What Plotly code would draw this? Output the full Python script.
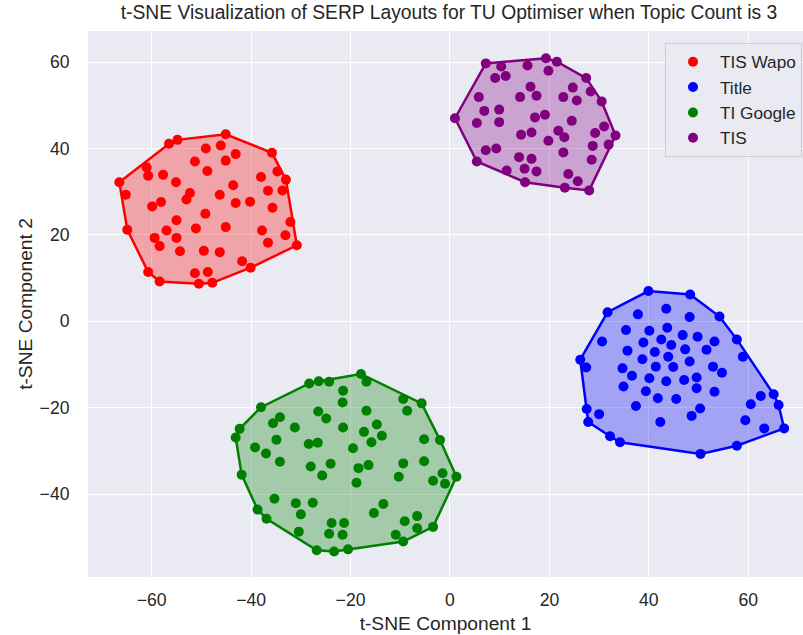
import plotly.graph_objects as go

# t-SNE coordinates per layout group
tis_wapo_x = [-45.1, -54.8, -56.5, -61.0, -66.5, -65.2, -64.9, -60.7, -58.4, -50.5, -47.8, -40.1, -30.8, -32.1,
              -33.0, -34.7, -35.8, -49.1, -46.1, -51.3, -45.1, -43.1, -48.8, -60.7, -57.7, -55.1, -52.3, -53.0,
              -46.3, -43.6, -38.0, -36.6, -33.7, -43.1, -40.2, -35.7, -59.9, -58.1, -49.2, -55.0, -51.1, -45.1,
              -57.0, -59.4, -58.4, -55.0, -54.3, -49.5, -46.3, -37.8, -36.6, -33.1, -51.3, -48.7, -41.8]
tis_wapo_y = [43.3, 42.0, 41.1, 35.6, 32.2, 29.3, 21.2, 11.4, 9.2, 8.7, 8.9, 12.4, 17.6, 23.0,
              32.8, 34.7, 39.0, 40.0, 40.7, 37.0, 37.2, 38.7, 34.8, 33.7, 33.9, 32.2, 29.7, 28.2,
              29.3, 31.5, 33.4, 30.2, 30.3, 27.4, 27.7, 26.3, 26.6, 27.6, 24.9, 23.4, 21.5, 21.8,
              21.0, 19.3, 17.4, 19.3, 16.2, 16.3, 16.0, 21.0, 18.2, 19.9, 11.1, 11.4, 13.9]

title_x = [39.9, 48.3, 54.2, 57.7, 58.9, 65.1, 66.1, 67.2, 63.2, 57.7, 50.4, 34.2, 32.2, 27.8, 27.5, 26.2,
           27.4, 31.7, 37.8, 43.5, 48.2, 35.4, 40.1, 43.7, 30.6, 38.9, 42.5, 44.5, 46.8, 49.8, 53.2, 51.6,
           35.7, 41.2, 43.9, 47.3, 38.7, 48.2, 34.7, 41.4, 44.9, 52.9, 54.7, 36.6, 40.1, 43.5, 47.1, 49.6,
           49.6, 53.2, 34.9, 39.4, 41.8, 45.5, 37.4, 50.3, 48.6, 42.3, 30.0, 59.4, 60.5, 62.5]
title_y = [7.0, 6.2, 1.1, -4.2, -8.2, -16.9, -19.4, -24.8, -24.8, -28.8, -30.7, -28.0, -26.6, -23.3, -20.3, -8.9,
           -10.7, 2.1, 1.6, 2.9, 1.0, -2.0, -2.2, -1.5, -4.7, -4.9, -4.2, -5.5, -3.2, -3.6, -4.7, -6.6,
           -6.8, -7.1, -8.2, -6.5, -8.8, -9.3, -10.9, -10.5, -10.6, -10.5, -11.9, -12.6, -13.2, -13.9, -13.6, -13.0,
           -15.5, -16.3, -15.1, -16.2, -17.8, -18.0, -19.6, -20.2, -21.9, -23.3, -21.5, -22.9, -19.2, -17.3]

ti_google_x = [-17.9, -5.7, -2.0, 1.3, -3.4, -9.4, -20.5, -23.3, -26.8, -36.9, -38.7, -41.9, -43.1, -42.3,
               -38.0, -28.3, -26.4, -24.3, -16.8, -21.5, -21.6, -9.4, -8.6, -16.8, -26.5, -24.9, -34.2, -35.6,
               -31.2, -21.5, -17.3, -14.7, -13.7, -15.8, -34.9, -28.4, -26.6, -19.5, -5.2, -39.2, -37.0, -34.2,
               -28.0, -24.0, -25.7, -18.4, -16.4, -18.8, -9.4, -10.3, -5.2, -3.4, -1.5, -1.0, -35.3, -31.0,
               -27.6, -30.0, -30.4, -23.8, -21.3, -24.3, -21.6, -13.4, -15.3, -9.1, -6.6, -6.6, -10.9]
ti_google_y = [-12.2, -19.0, -27.5, -36.0, -47.6, -51.0, -52.8, -53.3, -53.0, -45.7, -43.6, -35.5, -26.9, -24.9,
               -19.9, -14.4, -13.9, -14.0, -14.0, -16.1, -18.8, -18.0, -20.7, -20.7, -20.9, -22.5, -22.2, -23.6,
               -24.6, -24.6, -25.6, -23.9, -26.5, -28.0, -27.4, -28.4, -28.1, -29.4, -27.3, -29.2, -30.6, -32.5,
               -33.6, -33.0, -35.7, -34.0, -33.3, -37.4, -32.9, -36.0, -32.4, -36.9, -35.2, -37.6, -41.1, -42.1,
               -42.0, -44.7, -48.7, -46.7, -46.7, -49.2, -49.4, -42.3, -44.4, -46.3, -45.1, -47.9, -49.4]

tis_x = [7.2, 19.3, 21.5, 27.4, 28.3, 30.5, 33.3, 31.9, 28.0, 23.1, 15.1, 11.4, 5.4, 1.0,
         10.3, 9.1, 11.2, 15.6, 19.8, 16.2, 14.1, 17.4, 5.8, 6.9, 9.9, 5.4, 9.9, 17.1, 19.1,
         22.8, 24.7, 25.5, 24.5, 14.3, 16.4, 19.8, 21.8, 23.0, 31.0, 29.2, 28.7, 22.8, 28.5,
         7.2, 9.3, 13.9, 16.4, 15.0, 17.4, 23.8, 25.7]
tis_y = [59.7, 60.9, 60.1, 56.3, 53.2, 50.9, 43.0, 40.9, 30.3, 30.9, 32.2, 34.9, 37.0, 47.0,
         59.0, 56.3, 56.8, 59.2, 58.0, 54.3, 51.9, 52.2, 51.9, 48.7, 49.0, 45.9, 46.1, 47.2, 47.8,
         51.9, 54.1, 51.1, 46.4, 43.2, 43.7, 41.8, 44.1, 42.6, 45.1, 43.6, 40.6, 39.1, 37.4,
         39.6, 40.0, 38.0, 37.6, 35.3, 34.7, 34.1, 32.4]

group_names = ["TIS Wapo", "Title", "TI Google", "TIS"]
group_x = [tis_wapo_x, title_x, ti_google_x, tis_x]
group_y = [tis_wapo_y, title_y, ti_google_y, tis_y]
group_colors = ["red", "blue", "green", "purple"]
fill_colors = ["rgba(255,0,0,0.3)", "rgba(0,0,255,0.3)", "rgba(0,128,0,0.3)", "rgba(128,0,128,0.3)"]


def convex_hull(xs, ys):
    pts = sorted(set(zip(xs, ys)))

    def cross(o, a, b):
        return (a[0] - o[0]) * (b[1] - o[1]) - (a[1] - o[1]) * (b[0] - o[0])

    lower, upper = [], []
    for p in pts:
        while len(lower) >= 2 and cross(lower[-2], lower[-1], p) <= 0:
            lower.pop()
        lower.append(p)
    for p in reversed(pts):
        while len(upper) >= 2 and cross(upper[-2], upper[-1], p) <= 0:
            upper.pop()
        upper.append(p)
    hull = lower[:-1] + upper[:-1]
    hull.append(hull[0])
    return [p[0] for p in hull], [p[1] for p in hull]


fig = go.Figure()

for name, xs, ys, col, fcol in zip(group_names, group_x, group_y, group_colors, fill_colors):
    hx, hy = convex_hull(xs, ys)
    fig.add_trace(go.Scatter(
        x=hx, y=hy, mode="lines", fill="toself", fillcolor=fcol,
        line=dict(color=col, width=2.5), showlegend=False, hoverinfo="skip",
    ))

for name, xs, ys, col in zip(group_names, group_x, group_y, group_colors):
    fig.add_trace(go.Scatter(
        x=xs, y=ys, mode="markers", name=name,
        marker=dict(color=col, size=10, line=dict(width=0)),
    ))

axis_font = dict(family="Liberation Sans, Arial, sans-serif", size=17.6, color="#262626")

fig.update_layout(
    width=803, height=635,
    margin=dict(l=88, r=0, t=31, b=58),
    paper_bgcolor="white",
    plot_bgcolor="#EAEAF2",
    font=dict(family="Liberation Sans, Arial, sans-serif", color="#262626"),
    title=dict(
        text="t-SNE Visualization of SERP Layouts for TU Optimiser when Topic Count is 3",
        x=449 / 803, xanchor="center", y=1 - 12 / 635, yanchor="middle",
        font=dict(size=19.3, color="#262626"),
    ),
    xaxis=dict(
        range=[-72.8, 71.0], tickvals=[-60, -40, -20, 0, 20, 40, 60],
        showgrid=True, gridcolor="white", gridwidth=1.2, zeroline=False,
        ticks="outside", ticklen=7, tickcolor="rgba(0,0,0,0)", tickfont=axis_font,
        title=dict(text="t-SNE Component 1", font=dict(size=19.2), standoff=7),
        showline=False,
    ),
    yaxis=dict(
        range=[-59.2, 67.2], tickvals=[-60, -40, -20, 0, 20, 40, 60],
        showgrid=True, gridcolor="white", gridwidth=1.2, zeroline=False,
        ticks="outside", ticklen=14, tickcolor="rgba(0,0,0,0)", tickfont=axis_font,
        title=dict(text="t-SNE Component 2", font=dict(size=19.2), standoff=1),
        showline=False,
    ),
    legend=dict(
        x=0.9986, xanchor="right", y=0.978, yanchor="top",
        bgcolor="rgba(234,234,242,0.8)", bordercolor="#cccccc", borderwidth=1,
        font=dict(size=17.2, color="#262626"),
        itemsizing="trace", itemwidth=44,
    ),
)

fig.write_html("out.html")
